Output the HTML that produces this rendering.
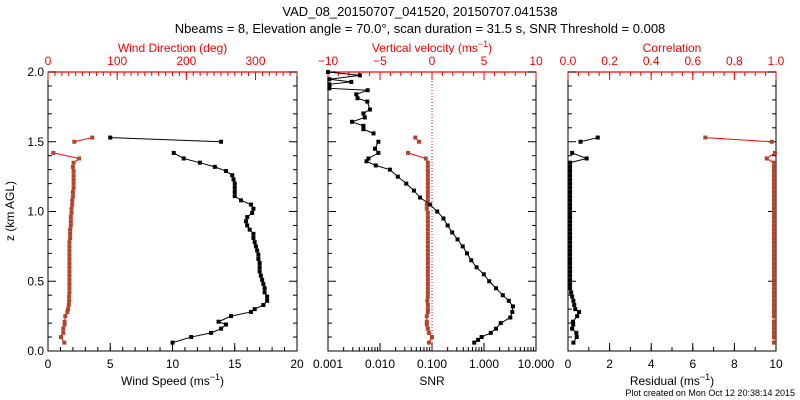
<!DOCTYPE html>
<html><head><meta charset="utf-8"><style>
body{margin:0;background:#fff}
svg{display:block;font-family:"Liberation Sans",sans-serif}
</style></head><body>
<svg id="c" width="800" height="400" xmlns="http://www.w3.org/2000/svg">
<text x="420" y="16" font-size="13" text-anchor="middle">VAD_08_20150707_041520, 20150707.041538</text>
<text x="420" y="33" font-size="13" text-anchor="middle">Nbeams = 8, Elevation angle = 70.0°, scan duration = 31.5 s, SNR Threshold = 0.008</text>
<text x="14" y="211" font-size="12" text-anchor="middle" transform="rotate(-90 14 211)">z (km AGL)</text>
<text x="795" y="396" font-size="9" text-anchor="end">Plot created on Mon Oct 12 20:38:14 2015</text>
</svg>
<script>
const zA=[0.06,0.10,0.13,0.16,0.19,0.21,0.25,0.28,0.30,0.33,0.36,0.39,0.42,0.45,0.48,0.51,0.54,0.57,0.60,0.63,0.66,0.69,0.72,0.75,0.78,0.81,0.84,0.87,0.90,0.93,0.96,0.99,1.02,1.05,1.08,1.11,1.14,1.17,1.20,1.23,1.26,1.29,1.32,1.35,1.38,1.42,1.50,1.53];
const windSpeed=[10.0,11.5,13.1,13.9,14.3,13.7,14.7,16.3,16.6,17.3,17.6,17.6,17.4,17.4,17.3,17.2,17.1,17.0,17.0,17.0,16.9,16.9,16.8,16.7,16.6,16.5,16.5,16.2,16.0,15.9,16.0,16.4,16.5,16.3,15.5,15.0,15.0,15.0,15.0,14.9,14.8,14.3,13.4,12.2,10.9,10.1,13.9,5.0];
const windDir=[23.6,18.8,22,22,24,24,25,28,29,30,30.5,30.5,31,31,31,31,31,31,31,31,31,31,31,31,31,32,32,32,33,33,33,34,34,35,35,36,36,37,37,37,37,37,36,37,45,7.7,38,64];
const wVel=[-0.3,0.0,-0.3,-0.4,-0.5,-0.5,-0.5,-0.4,-0.4,-0.4,-0.45,-0.4,-0.4,-0.4,-0.4,-0.4,-0.4,-0.4,-0.4,-0.4,-0.4,-0.4,-0.4,-0.4,-0.4,-0.4,-0.4,-0.4,-0.4,-0.4,-0.4,-0.4,-0.5,-0.5,-0.4,-0.4,-0.4,-0.4,-0.4,-0.4,-0.4,-0.4,-0.4,-0.4,-0.6,-2.3,-1.25,-1.6];
const zS=[0.06,0.08,0.10,0.13,0.16,0.20,0.24,0.28,0.32,0.36,0.40,0.45,0.50,0.55,0.60,0.65,0.70,0.75,0.80,0.85,0.90,0.95,1.00,1.05,1.10,1.15,1.20,1.25,1.30,1.33,1.36,1.38,1.42,1.45,1.50,1.56,1.59,1.614,1.643,1.674,1.703,1.731,1.788,1.812,1.84,1.869,1.883,1.912,1.929,1.948,1.976,2.0];
const snr=[0.65,0.77,0.90,1.35,1.7,2.1,3.2,3.5,3.6,3.0,2.3,1.7,1.26,0.99,0.72,0.57,0.47,0.39,0.31,0.245,0.2,0.166,0.126,0.091,0.059,0.045,0.032,0.022,0.0155,0.0083,0.0055,0.006,0.0093,0.008,0.0093,0.0075,0.0048,0.0048,0.0029,0.0051,0.0048,0.0064,0.0057,0.0037,0.0035,0.0058,0.00106,0.00106,0.0028,0.00106,0.0041,0.001];
const residual=[0.26,0.42,0.4,0.2,0.25,0.24,0.44,0.53,0.35,0.3,0.26,0.2,0.15,0.1,0.1,0.1,0.1,0.1,0.1,0.1,0.1,0.1,0.1,0.1,0.1,0.1,0.1,0.1,0.1,0.1,0.1,0.1,0.1,0.1,0.1,0.1,0.1,0.1,0.1,0.1,0.1,0.1,0.1,0.1,0.9,0.2,0.6,1.43];
const correlation=[0.99,0.99,0.99,0.99,0.99,0.99,0.99,0.99,0.99,0.99,0.99,0.99,0.99,0.99,0.99,0.99,0.99,0.99,0.99,0.99,0.99,0.99,0.99,0.99,0.99,0.99,0.99,0.99,0.99,0.99,0.99,0.99,0.99,0.99,0.99,0.99,0.99,0.99,0.99,0.99,0.99,0.99,0.99,0.99,0.955,0.995,0.98,0.66];
const yTicks=["0.0","0.5","1.0","1.5","2.0"];

const NS="http://www.w3.org/2000/svg", svg=document.getElementById('c');
const RED="#ff0000", BR="#b5432b";
function el(t,a,txt){const e=document.createElementNS(NS,t);for(const k in a)e.setAttribute(k,a[k]);if(txt!==undefined)e.textContent=txt;svg.appendChild(e);return e;}
const T=72,B=351;
const Y=z=>B-(z/2)*(B-T);
function lin(x0,x1,a,b){return v=>x0+(v-a)/(b-a)*(x1-x0);}
function logx(x0,x1,a,b){return v=>x0+(Math.log10(v)-Math.log10(a))/(Math.log10(b)-Math.log10(a))*(x1-x0);}

function frame(x0,x1,name){
  const f=el('rect',{x:x0,y:T,width:x1-x0,height:B-T,fill:'none',stroke:'#000','stroke-width':1});
  
  el('line',{x1:x0,y1:T,x2:x1,y2:T,stroke:RED,'stroke-width':1.2});
  for(let i=0;i<=20;i++){const y=Y(i*0.1),L=i%5==0?8:4;
    el('line',{x1:x0,y1:y,x2:x0+L,y2:y,stroke:'#000'});el('line',{x1:x1,y1:y,x2:x1-L,y2:y,stroke:'#000'});}
}
function ticksBottom(sx,vals,labels,minor,name,title,fmt){
  minor.forEach(v=>el('line',{x1:sx(v),y1:B,x2:sx(v),y2:B-4,stroke:'#000'}));
  vals.forEach((v,i)=>{el('line',{x1:sx(v),y1:B,x2:sx(v),y2:B-8,stroke:'#000'});
    const t=el('text',{x:sx(v),y:368,'font-size':12,'text-anchor':'middle'},labels[i]);
    });
}
function ticksTop(sx,vals,labels,minor,name){
  minor.forEach(v=>el('line',{x1:sx(v),y1:T,x2:sx(v),y2:T+4,stroke:RED}));
  vals.forEach((v,i)=>{el('line',{x1:sx(v),y1:T,x2:sx(v),y2:T+8,stroke:RED});
    const t=el('text',{x:sx(v),y:65,'font-size':12,'text-anchor':'middle',fill:RED},labels[i]);
    });
}
function title(x,y,html,fill,name){const t=el('text',{x:x,y:y,'font-size':12,'text-anchor':'middle',fill:fill});t.innerHTML=html;
  }
function series(zs,vals,sx,color,lineColor,name){
  const segs=[[]];
  for(let i=0;i<zs.length;i++){if(i>0&&zs[i]-zs[i-1]>0.06)segs.push([]);segs[segs.length-1].push([sx(vals[i]),Y(zs[i])]);}
  segs.forEach(s=>{const p=el('polyline',{points:s.map(q=>q.join(',')).join(' '),fill:'none',stroke:lineColor,'stroke-width':1});
    });
  for(let i=0;i<zs.length;i++){const c=el('rect',{x:sx(vals[i])-2,y:Y(zs[i])-2,width:4,height:4,fill:color});
    }
}
// y tick labels
yTicks.forEach((l,i)=>{const t=el('text',{x:44,y:Y(i*0.5)+4,'font-size':12,'text-anchor':'end'},l);
  });

// Panel 1
const p1a=48,p1b=297;
frame(p1a,p1b,'wind-panel');
const sSpd=lin(p1a,p1b,0,20), sDir=lin(p1a,p1b,0,360);
ticksBottom(sSpd,[0,5,10,15,20],["0","5","10","15","20"],[...Array(21).keys()],'wind-speed');
ticksTop(sDir,[0,100,200,300],["0","100","200","300"],[...Array(37).keys()].map(i=>i*10),'wind-direction');
title((p1a+p1b)/2,52,'Wind Direction (deg)',RED,'wind-direction-title');
title((p1a+p1b)/2,385,'Wind Speed (ms<tspan dy="-5" font-size="9">−1</tspan><tspan dy="5">)</tspan>','#000','wind-speed-title');
series(zA,windDir,sDir,BR,RED,'wind-direction');
series(zA,windSpeed,sSpd,'#000','#000','wind-speed');

// Panel 2
const p2a=328,p2b=536;
frame(p2a,p2b,'vertical-panel');
const sSnr=logx(p2a,p2b,0.001,10), sW=lin(p2a,p2b,-10,10);
const mn=[];for(let d=-3;d<1;d++)for(let k=2;k<10;k++)mn.push(k*Math.pow(10,d));
ticksBottom(sSnr,[0.001,0.01,0.1,1,10],["0.001","0.010","0.100","1.000","10.000"],mn,'snr');
ticksTop(sW,[-10,-5,0,5,10],["−10","−5","0","5","10"],[...Array(21).keys()].map(i=>i-10),'vertical-velocity');
title((p2a+p2b)/2,52,'Vertical velocity (ms<tspan dy="-5" font-size="9">−1</tspan><tspan dy="5">)</tspan>',RED,'vertical-velocity-title');
title((p2a+p2b)/2,385,'SNR','#000','snr-title');
el('line',{x1:sW(0),y1:T,x2:sW(0),y2:B,stroke:RED,'stroke-dasharray':'1,2'});
series(zA,wVel,sW,BR,RED,'vertical-velocity');
series(zS,snr.map(v=>Math.max(v,0.001)),sSnr,'#000','#000','snr');

// Panel 3
const p3a=568,p3b=776;
frame(p3a,p3b,'residual-panel');
const sR=lin(p3a,p3b,0,10), sC=lin(p3a,p3b,0,1);
ticksBottom(sR,[0,2,4,6,8,10],["0","2","4","6","8","10"],[...Array(11).keys()],'residual');
ticksTop(sC,[0,0.2,0.4,0.6,0.8,1],["0.0","0.2","0.4","0.6","0.8","1.0"],[...Array(21).keys()].map(i=>i*0.05),'correlation');
title((p3a+p3b)/2,52,'Correlation',RED,'correlation-title');
title((p3a+p3b)/2,385,'Residual (ms<tspan dy="-5" font-size="9">−1</tspan><tspan dy="5">)</tspan>','#000','residual-title');
series(zA,correlation,sC,BR,RED,'correlation');
series(zA,residual,sR,'#000','#000','residual');
</script>
</body></html>
